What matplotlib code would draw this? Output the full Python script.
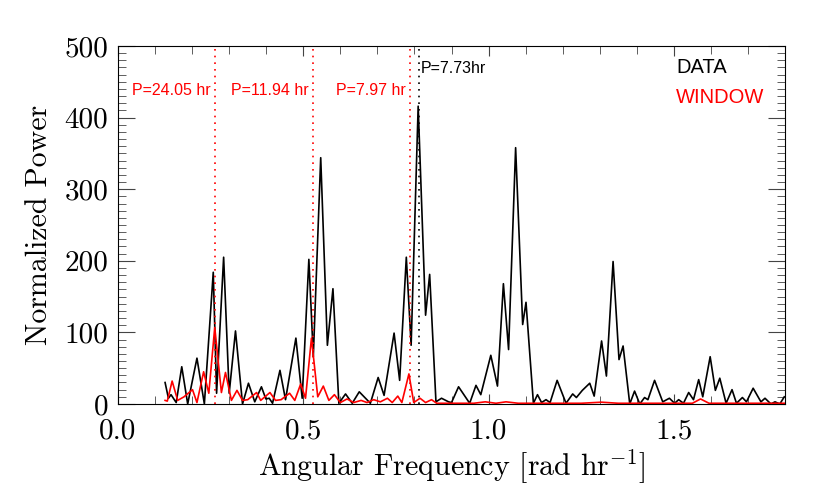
import numpy as np
import matplotlib
matplotlib.use('Agg')
import matplotlib.pyplot as plt
from matplotlib.ticker import MultipleLocator

plt.rcParams['font.family'] = 'cmr10'
plt.rcParams['mathtext.fontset'] = 'cm'
plt.rcParams['axes.formatter.use_mathtext'] = True

# Periodogram of the data
data_freq = [0.127, 0.136, 0.143, 0.157, 0.172, 0.188, 0.213, 0.233, 0.257, 0.266,
             0.285, 0.300, 0.317, 0.336, 0.352, 0.369, 0.387, 0.399, 0.408, 0.417,
             0.437, 0.452, 0.480, 0.497, 0.515, 0.527, 0.547, 0.565, 0.580, 0.596,
             0.614, 0.632, 0.651, 0.681, 0.702, 0.718, 0.745, 0.760, 0.778, 0.791,
             0.810, 0.830, 0.841, 0.858, 0.873, 0.892, 0.900, 0.919, 0.949, 0.966,
             0.979, 1.006, 1.024, 1.040, 1.054, 1.073, 1.092, 1.101, 1.121, 1.132,
             1.143, 1.155, 1.166, 1.185, 1.209, 1.227, 1.237, 1.253, 1.273, 1.285,
             1.305, 1.318, 1.336, 1.352, 1.363, 1.381, 1.394, 1.408, 1.421, 1.430,
             1.448, 1.470, 1.488, 1.502, 1.513, 1.526, 1.540, 1.553, 1.567, 1.578,
             1.598, 1.612, 1.624, 1.641, 1.657, 1.669, 1.685, 1.696, 1.714, 1.735,
             1.746, 1.762, 1.773, 1.786, 1.798]
data_power = [30, 8, 13, 2, 52, 0, 64, 0, 184, 15,
              205, 15, 102, 0, 29, 3, 24, 7, 8, 1,
              47, 6, 92, 8, 202, 66, 344, 82, 161, 1,
              14, 1, 17, 1, 37, 12, 99, 33, 205, 82,
              416, 124, 181, 3, 8, 3, 2, 24, 1, 26,
              13, 68, 25, 168, 76, 358, 111, 142, 1, 13,
              2, 6, 2, 33, 1, 14, 9, 19, 29, 11,
              88, 39, 199, 62, 81, 0, 18, 0, 9, 6,
              33, 3, 8, 1, 6, 1, 16, 6, 34, 10,
              66, 19, 36, 1, 20, 1, 9, 3, 22, 3,
              8, 0, 3, 0, 10]

# Window function
win_freq = [0.127, 0.133, 0.146, 0.161, 0.178, 0.201, 0.213, 0.231, 0.245, 0.261,
            0.279, 0.290, 0.306, 0.321, 0.336, 0.350, 0.374, 0.385, 0.410, 0.425,
            0.440, 0.463, 0.477, 0.493, 0.506, 0.522, 0.539, 0.554, 0.569, 0.584,
            0.600, 0.618, 0.636, 0.656, 0.672, 0.690, 0.708, 0.727, 0.740, 0.755,
            0.766, 0.785, 0.798, 0.815, 0.830, 0.846, 0.860, 0.920, 0.960, 0.991,
            1.020, 1.047, 1.080, 1.150, 1.250, 1.305, 1.350, 1.500, 1.550, 1.572,
            1.595, 1.700, 1.798]
win_power = [5, 4, 32, 5, 10, 20, 2, 45, 15, 107,
             16, 44, 5, 19, 5, 6, 16, 5, 16, 5,
             6, 15, 5, 28, 8, 92, 10, 25, 5, 13,
             2, 7, 2, 5, 2, 6, 3, 8, 2, 11,
             2, 42, 2, 8, 2, 6, 1, 1, 1, 3,
             1, 3, 1, 1, 1, 2.5, 1, 1, 1, 7,
             1, 1, 1]

# Marked periods [hr]
window_periods = [24.05, 11.94, 7.97]
window_labels = ['P=24.05 hr', 'P=11.94 hr', 'P=7.97 hr']
data_period = 7.73
data_label = 'P=7.73hr'

fig = plt.figure(figsize=(8.3, 4.98), dpi=100)
ax = fig.add_axes([0.1422, 0.1888, 0.8036, 0.7188])

ax.plot(data_freq, data_power, color='black', lw=1.2)
ax.plot(win_freq, win_power, color='red', lw=1.2)

for p, lab in zip(window_periods, window_labels):
    w = 2 * np.pi / p
    ax.axvline(w, color='red', lw=1.2, ls=(0, (1, 3)))
    ax.annotate(lab, xy=(w, 438), xytext=(-3, 0), textcoords='offset points',
                ha='right', va='center', color='red', fontsize=11.5,
                family='Liberation Sans')

w = 2 * np.pi / data_period
ax.axvline(w, color='black', lw=1.2, ls=(0, (1, 3)))
ax.annotate(data_label, xy=(w, 469), xytext=(1, 0), textcoords='offset points',
            ha='left', va='center', color='black', fontsize=11.5,
            family='Liberation Sans')

ax.text(0.8366, 0.941, 'DATA', transform=ax.transAxes, color='black',
        fontsize=14.5, va='center', ha='left', family='Liberation Sans')
ax.text(0.8366, 0.855, 'WINDOW', transform=ax.transAxes, color='red',
        fontsize=14.5, va='center', ha='left', family='Liberation Sans')

ax.set_xlim(0, 1.8)
ax.set_ylim(0, 500)
ax.xaxis.set_major_locator(MultipleLocator(0.5))
ax.xaxis.set_minor_locator(MultipleLocator(0.1))
ax.yaxis.set_major_locator(MultipleLocator(100))
ax.yaxis.set_minor_locator(MultipleLocator(10))
ax.xaxis.set_major_formatter(matplotlib.ticker.FormatStrFormatter('%.1f'))
ax.yaxis.set_major_formatter(matplotlib.ticker.FormatStrFormatter('%d'))
ax.tick_params(which='both', direction='in', top=True, right=True, color='#444444')
ax.tick_params(axis='x', which='major', length=7, pad=10, labelsize=21)
ax.tick_params(axis='x', which='minor', length=6)
ax.tick_params(axis='y', which='major', length=12, pad=7, labelsize=21)
ax.tick_params(axis='y', which='minor', length=6)

ax.set_xlabel(r'Angular Frequency [rad hr$^{-1}$]', fontsize=21.5, labelpad=2)
ax.set_ylabel('Normalized Power', fontsize=21.5, labelpad=8)

fig.savefig('out.png', dpi=100)
